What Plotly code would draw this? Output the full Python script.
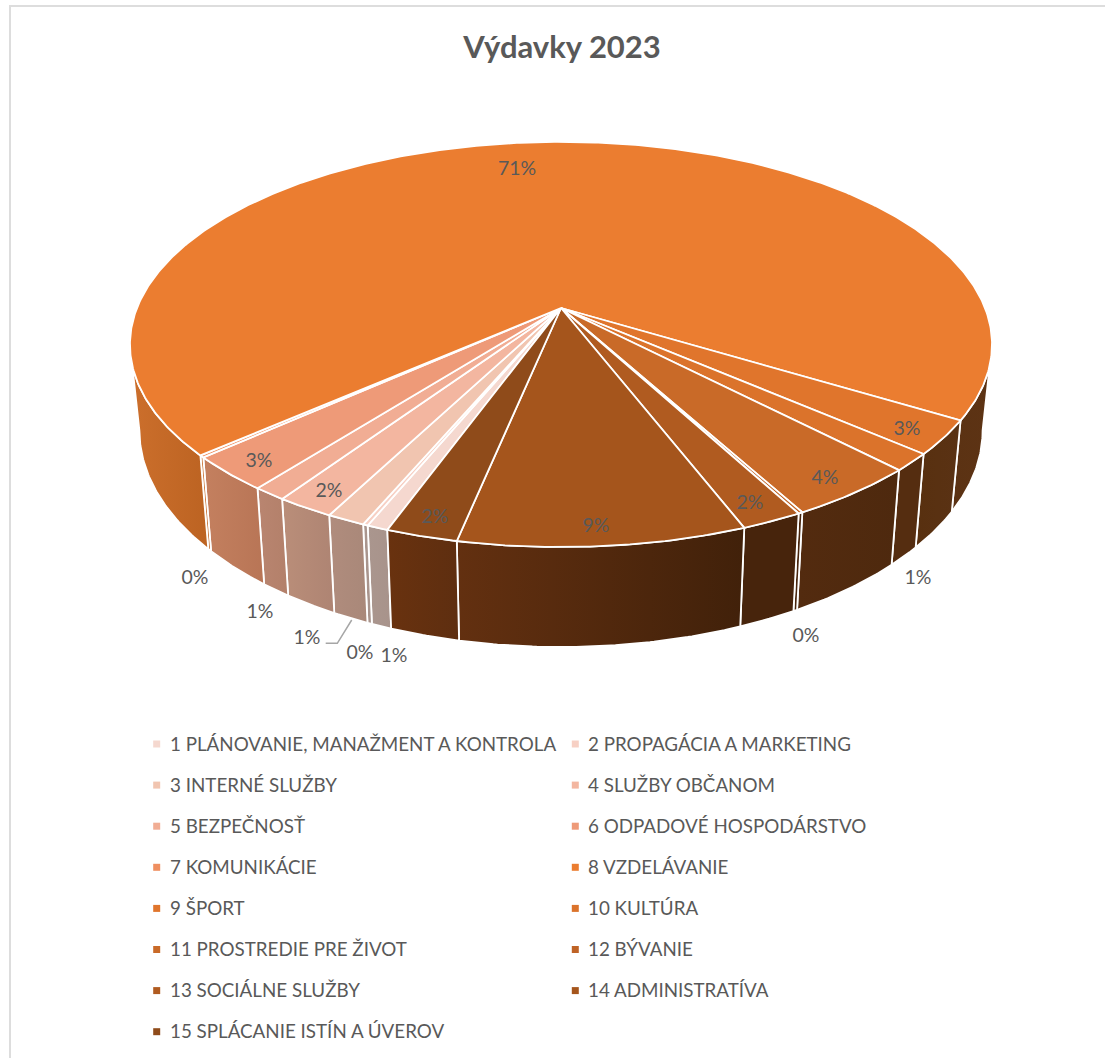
import math
import numpy as np
import plotly.graph_objects as go

# ---- data -----------------------------------------------------------------
CATEGORIES = [
    "1 PLÁNOVANIE, MANAŽMENT A KONTROLA", "2 PROPAGÁCIA A MARKETING",
    "3 INTERNÉ SLUŽBY", "4 SLUŽBY OBČANOM", "5 BEZPEČNOSŤ",
    "6 ODPADOVÉ HOSPODÁRSTVO", "7 KOMUNIKÁCIE", "8 VZDELÁVANIE", "9 ŠPORT",
    "10 KULTÚRA", "11 PROSTREDIE PRE ŽIVOT", "12 BÝVANIE",
    "13 SOCIÁLNE SLUŽBY", "14 ADMINISTRATÍVA", "15 SPLÁCANIE ISTÍN A ÚVEROV",
]
VALUES = [0.68, 0.16, 1.23, 1.86, 1.07, 2.78, 0.17, 70.23, 2.70, 1.39, 4.25,
          0.14, 1.96, 9.10, 2.28]
PCT_LABELS = ["1%", "0%", "1%", "2%", "1%", "3%", "0%", "71%", "3%", "1%",
              "4%", "0%", "2%", "9%", "2%"]

# ---- styles ----------------------------------------------------------------
TOP_COLORS = ["#F5D8CF", "#F7D0C4", "#F1C5B0", "#F3B6A0", "#F1AD94", "#EE9A78",
              "#EF8F60", "#EB7D30", "#E0752C", "#DB732B", "#C96A28", "#BF6326",
              "#B05B20", "#A5551C", "#8F4B1A"]
SIDE_GRAD = [("#AA968E", "#A8938B"), ("#AA968E", "#A8938B"), ("#B08C7D", "#A98879"),
             ("#BA8E79", "#AE8473"), ("#B98570", "#B3806A"), ("#C4805F", "#B87556"),
             ("#C96D2B", "#BC6322"), ("#CC6F2C", "#BC6322"), ("#58300F", "#5A3214"),
             ("#552D10", "#552D10"), ("#532B0F", "#4E290E"), ("#47240C", "#47240C"),
             ("#47240C", "#47240C"), ("#633010", "#41210A"), ("#69320F", "#5E2E10")]
SIDE_GRAD_8_RIGHT = ("#5B3213", "#5D3314")
TEXT_GREY = "#595959"
FONT = "Lato"

# geometry of the tilted disc (perspective), in page pixels
START_ANGLE = 19.89     # clockwise from the viewer-facing point
CX = 561
TOP = dict(a=424.0, b=-196.0, c=0.18, y0=308.0)
BOT = dict(a=414.7, b=-209.5, c=0.18, y0=391.5)
LABEL_XY = [(394, 657), (360, 654), (307, 639), (329, 492), (260, 613), (259, 462),
            (195, 579), (517, 170), (907, 430), (918, 579), (825, 479), (806, 637),
            (750, 504), (596, 527), (435, 518)]
LEADER = ([325.7, 337.3, 351.7], [643.3, 643.3, 620.0])


def project(theta_deg, disc, r=1.0):
    t = np.radians(np.asarray(theta_deg, dtype=float))
    X = -r * np.sin(t)
    Y = -r * np.cos(t)
    w = 1 + disc["c"] * Y
    return CX + disc["a"] * X / w, disc["y0"] + disc["b"] * Y / w


def arc(t0, t1):
    n = max(2, int(abs(t1 - t0) * 2) + 2)
    return np.linspace(t0, t1, n)


edges = START_ANGLE + np.concatenate([[0], np.cumsum(VALUES)]) * 360.0 / sum(VALUES)
limit = 90 - math.degrees(math.asin(TOP["c"]))
front = [(0.0, limit), (360 - limit, 360 + limit)]

fig = go.Figure()

# side walls
for i, name in enumerate(CATEGORIES):
    for lo, hi in front:
        t0, t1 = max(edges[i], lo), min(edges[i + 1], hi)
        if t1 <= t0:
            continue
        th = arc(t0, t1)
        xt, yt = project(th, TOP)
        xb, yb = project(th[::-1], BOT)
        pair = SIDE_GRAD_8_RIGHT if (i == 7 and t0 > 180) else SIDE_GRAD[i]
        fig.add_trace(go.Scatter(
            x=np.concatenate([xt, xb, xt[:1]]), y=np.concatenate([yt, yb, yt[:1]]),
            mode="lines", fill="toself", name=name, hoverinfo="name",
            line=dict(color="white", width=1.8),
            fillgradient=dict(type="horizontal",
                              colorscale=[[0, pair[0]], [1, pair[1]]]),
        ))

# top face
for i, name in enumerate(CATEGORIES):
    xa, ya = project(arc(edges[i], edges[i + 1]), TOP)
    xc, yc = project(0.0, TOP, r=0.0)
    fig.add_trace(go.Scatter(
        x=np.concatenate([[xc], xa, [xc]]), y=np.concatenate([[yc], ya, [yc]]),
        mode="lines", fill="toself", fillcolor=TOP_COLORS[i], name=name,
        hoverinfo="name", line=dict(color="white", width=1.8),
    ))

# leader line and percent labels
fig.add_trace(go.Scatter(x=LEADER[0], y=LEADER[1], mode="lines", hoverinfo="skip",
                         line=dict(color="#A6A6A6", width=1.5)))
fig.add_trace(go.Scatter(
    x=[p[0] for p in LABEL_XY], y=[p[1] for p in LABEL_XY], mode="text",
    text=PCT_LABELS, textposition="middle center", hoverinfo="skip",
    textfont=dict(family=FONT, size=19.5, color=TEXT_GREY),
))

# legend block: two columns, filled row by row
LEG_MARK_X = [156.7, 575.3]
LEG_TEXT_X = [170.0, 588.0]
LEG_Y0, LEG_STEP = 746.0, 41.1
rows = [i // 2 for i in range(len(CATEGORIES))]
cols = [i % 2 for i in range(len(CATEGORIES))]
leg_y = [LEG_Y0 + r * LEG_STEP for r in rows]
fig.add_trace(go.Scatter(
    x=[LEG_MARK_X[c] for c in cols], y=[v - 2 for v in leg_y], mode="markers",
    hoverinfo="skip", marker=dict(symbol="square", size=7, color=TOP_COLORS),
))
fig.add_trace(go.Scatter(
    x=[LEG_TEXT_X[c] for c in cols], y=leg_y, mode="text", text=CATEGORIES,
    textposition="middle right", hoverinfo="skip",
    textfont=dict(family=FONT, size=18.8, color=TEXT_GREY),
))

fig.update_layout(
    width=1105, height=1058, margin=dict(l=0, r=0, t=0, b=0),
    paper_bgcolor="white", plot_bgcolor="white", showlegend=False,
    xaxis=dict(range=[0, 1105], visible=False, fixedrange=True),
    yaxis=dict(range=[1058, 0], visible=False, fixedrange=True),
    title=dict(text="<b>Výdavky 2023</b>", x=562 / 1105, xanchor="center",
               y=1 - 47.5 / 1058, yanchor="middle",
               font=dict(family=FONT, size=31, color=TEXT_GREY)),
    shapes=[dict(type="line", xref="x", yref="y", x0=10, y0=6, x1=10, y1=1058,
                 line=dict(color="#DDDDDD", width=2)),
            dict(type="line", xref="x", yref="y", x0=9, y0=6, x1=1105, y1=6,
                 line=dict(color="#DDDDDD", width=2))],
)
fig.write_html("out.html", config={"displayModeBar": False},
               post_script="document.body.style.margin='0';document.body.style.overflow='hidden';")
